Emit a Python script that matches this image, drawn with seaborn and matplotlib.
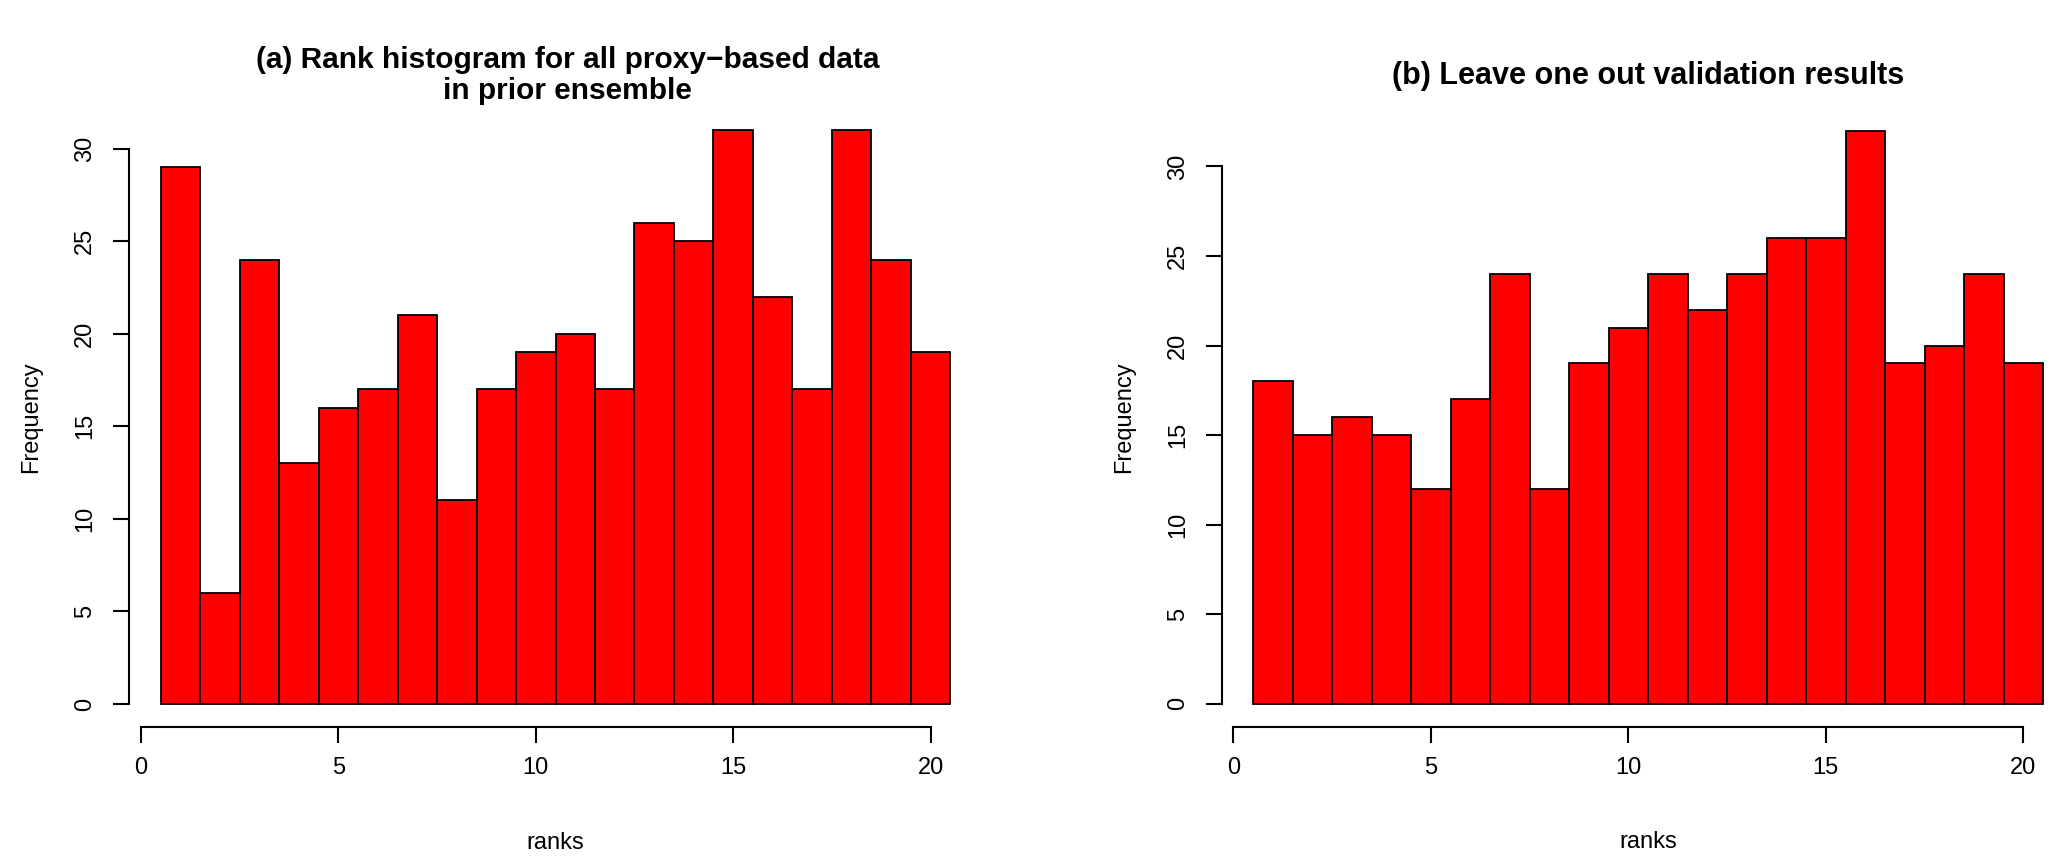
import matplotlib
matplotlib.use("Agg")
import matplotlib.pyplot as plt
import seaborn as sns
import numpy as np
import pandas as pd

ranks = list(range(1, 21))
counts_a = [29, 6, 24, 13, 16, 17, 21, 11, 17, 19, 20, 17, 26, 25, 31, 22, 17, 31, 24, 19]
counts_b = [18, 15, 16, 15, 12, 17, 24, 12, 19, 21, 24, 22, 24, 26, 26, 32, 19, 20, 24, 19]
title_a = "(a) Rank histogram for all proxy\u2212based data\nin prior ensemble"
title_b = "(b) Leave one out validation results"
xticks = [0, 5, 10, 15, 20]
yticks = [0, 5, 10, 15, 20, 25, 30]

sns.set_theme(style="white")
plt.rcParams['font.family'] = ['Liberation Sans', 'DejaVu Sans']

fig = plt.figure(figsize=(20.67, 8.58), dpi=100)
ax_a = fig.add_axes([0.0624, 0.1528, 0.4127, 0.7224])
ax_b = fig.add_axes([0.591, 0.153, 0.4127, 0.7215])

def draw(ax, counts):
    df = pd.DataFrame({"ranks": ranks, "count": counts})
    sns.histplot(data=df, x="ranks", weights="count", discrete=True, ax=ax,
                 color="#ff0000", alpha=1.0, edgecolor="black", linewidth=1.3)
    ymax = max(counts)
    ax.set_xlim(0.5 - 0.04 * 20, 20.5 + 0.04 * 20)
    ax.set_ylim(-0.04 * ymax, ymax * 1.04)
    for s in ["top", "right"]:
        ax.spines[s].set_visible(False)
    ax.spines["left"].set_bounds(0, 30)
    ax.spines["bottom"].set_bounds(0, 20)
    for s in ["left", "bottom"]:
        ax.spines[s].set_color("black")
        ax.spines[s].set_linewidth(1.5)
    ax.set_xticks(xticks)
    ax.set_yticks(yticks)
    ax.tick_params(axis="both", direction="out", length=11.5, width=1.5, color="black",
                   labelsize=17, labelcolor="black", bottom=True, left=True)
    ax.tick_params(axis="x", pad=10)
    ax.tick_params(axis="y", pad=12)
    for lab in ax.get_yticklabels():
        lab.set_rotation(90)
        lab.set_va("center")
    ax.set_xlabel("ranks", fontsize=17, labelpad=38, color="black")
    ax.set_ylabel("Frequency", fontsize=17, labelpad=23, color="black")
    ax.grid(False)

draw(ax_a, counts_a)
draw(ax_b, counts_b)

fig.text(0.2745, 1 - 57.5 / 652, title_a, ha="center", va="center", multialignment="center",
         fontsize=21.5, fontweight="bold", color="black", linespacing=1.15)
fig.text(0.7975, 1 - 58 / 652, title_b, ha="center", va="center",
         fontsize=22, fontweight="bold", color="black")

fig.savefig("out.png", dpi=100)
